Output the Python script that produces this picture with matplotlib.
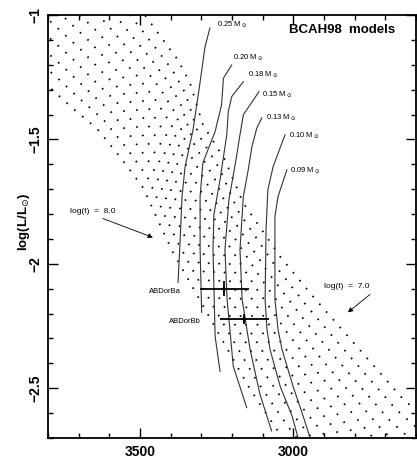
import matplotlib
matplotlib.use("Agg")
from matplotlib import pyplot as plt
from matplotlib.ticker import MultipleLocator, FuncFormatter

plt.rcParams['font.family'] = ['Liberation Sans', 'DejaVu Sans']
plt.rcParams['mathtext.fontset'] = 'dejavusans'

# BCAH98 isochrones, log(t) = 7.0 ... 8.0
iso_ages = [7.0, 7.1, 7.2, 7.3, 7.4, 7.5, 7.6, 7.7, 7.8, 7.9, 8.0]
iso_teff = [
    [3647, 3533, 3477, 3425, 3376, 3337, 3295, 3223, 3164, 3043, 2936, 2848, 2642, 2522],
    [3671, 3560, 3502, 3447, 3395, 3352, 3309, 3240, 3181, 3063, 2957, 2867, 2666, 2545],
    [3696, 3586, 3527, 3468, 3414, 3368, 3323, 3257, 3199, 3084, 2977, 2886, 2690, 2568],
    [3720, 3613, 3551, 3490, 3433, 3383, 3337, 3274, 3216, 3104, 2998, 2905, 2713, 2590],
    [3745, 3640, 3576, 3511, 3452, 3398, 3351, 3291, 3233, 3124, 3018, 2924, 2737, 2613],
    [3769, 3667, 3601, 3533, 3471, 3414, 3365, 3308, 3251, 3145, 3039, 2943, 2761, 2636],
    [3793, 3693, 3626, 3554, 3489, 3429, 3379, 3324, 3268, 3165, 3059, 2961, 2785, 2659],
    [3818, 3720, 3651, 3576, 3508, 3444, 3393, 3341, 3285, 3185, 3080, 2980, 2809, 2682],
    [3842, 3747, 3675, 3597, 3527, 3459, 3407, 3358, 3302, 3205, 3100, 2999, 2832, 2704],
    [3867, 3773, 3700, 3619, 3546, 3475, 3421, 3375, 3320, 3226, 3121, 3018, 2856, 2727],
    [3891, 3800, 3725, 3640, 3565, 3490, 3435, 3392, 3337, 3246, 3141, 3037, 2880, 2750],
]
iso_logl = [
    [-0.779, -0.920, -1.012, -1.100, -1.181, -1.273, -1.441, -1.582, -1.754, -1.971, -2.131, -2.255, -2.544, -2.673],
    [-0.820, -0.957, -1.048, -1.136, -1.220, -1.315, -1.481, -1.619, -1.786, -2.001, -2.168, -2.299, -2.584, -2.716],
    [-0.861, -0.993, -1.083, -1.171, -1.259, -1.357, -1.521, -1.657, -1.818, -2.032, -2.206, -2.343, -2.624, -2.760],
    [-0.902, -1.030, -1.119, -1.207, -1.298, -1.399, -1.561, -1.694, -1.850, -2.062, -2.243, -2.388, -2.664, -2.803],
    [-0.943, -1.066, -1.155, -1.243, -1.337, -1.441, -1.601, -1.731, -1.882, -2.093, -2.280, -2.432, -2.704, -2.846],
    [-0.984, -1.103, -1.191, -1.279, -1.376, -1.484, -1.642, -1.769, -1.915, -2.123, -2.318, -2.476, -2.745, -2.890],
    [-1.025, -1.139, -1.226, -1.314, -1.414, -1.526, -1.682, -1.806, -1.947, -2.153, -2.355, -2.520, -2.785, -2.933],
    [-1.066, -1.176, -1.262, -1.350, -1.453, -1.568, -1.722, -1.843, -1.979, -2.184, -2.392, -2.564, -2.825, -2.976],
    [-1.107, -1.212, -1.298, -1.386, -1.492, -1.610, -1.762, -1.880, -2.011, -2.214, -2.429, -2.609, -2.865, -3.019],
    [-1.148, -1.249, -1.333, -1.421, -1.531, -1.652, -1.802, -1.918, -2.043, -2.245, -2.467, -2.653, -2.905, -3.063],
    [-1.189, -1.285, -1.369, -1.457, -1.570, -1.694, -1.842, -1.955, -2.075, -2.275, -2.504, -2.697, -2.945, -3.106],
]

# evolutionary tracks
track_masses = ['0.25', '0.20', '0.18', '0.15', '0.13', '0.10', '0.09']
track_teff = [
    [3272, 3288, 3304, 3327, 3353, 3363, 3370, 3376],
    [3201, 3228, 3234, 3255, 3295, 3304, 3304, 3299],
    [3163, 3201, 3212, 3217, 3239, 3259, 3262, 3255, 3239],
    [3112, 3141, 3163, 3174, 3187, 3210, 3223, 3216, 3196, 3152],
    [3103, 3119, 3135, 3147, 3163, 3174, 3167, 3141, 3109, 3071],
    [3027, 3066, 3083, 3089, 3092, 3086, 3076, 3043, 3004, 2985, 2978],
    [3021, 3050, 3060, 3060, 3050, 3037, 3001, 2968, 2946, 2936],
]
track_logl = [
    [-1.052, -1.128, -1.269, -1.461, -1.610, -1.730, -1.931, -2.075],
    [-1.201, -1.254, -1.361, -1.468, -1.594, -1.730, -1.943, -2.195],
    [-1.268, -1.328, -1.388, -1.481, -1.662, -1.802, -1.943, -2.292, -2.432],
    [-1.308, -1.361, -1.401, -1.481, -1.582, -1.742, -1.943, -2.143, -2.411, -2.578],
    [-1.414, -1.454, -1.529, -1.622, -1.729, -1.943, -2.143, -2.344, -2.524, -2.671],
    [-1.481, -1.610, -1.702, -1.862, -2.143, -2.263, -2.344, -2.492, -2.612, -2.697, -2.725],
    [-1.622, -1.730, -1.810, -2.143, -2.263, -2.344, -2.492, -2.612, -2.697, -2.737],
]

# AB Dor B components
star_names = ['ABDorBa', 'ABDorBb']
star_teff = [3225, 3160]
star_teff_err = [80, 80]
star_logl = [-2.10, -2.22]
star_logl_err = [0.03, 0.02]

fig = plt.figure(figsize=(4.17, 4.58), dpi=100)
ax = fig.add_axes([48 / 417, 20 / 458, 368 / 417, 423 / 458])

for teff, logl in zip(iso_teff, iso_logl):
    ax.plot(teff, logl, color='black', lw=1.3, linestyle=(0, (0.9, 4.8)))

for teff, logl in zip(track_teff, track_logl):
    ax.plot(teff, logl, color='0.2', lw=0.8)

# mass labels next to the top of each track
label_offsets = [(5, 2), (1, 5), (3, 5), (2, -2), (3, 0), (3, -1), (2, -1)]
for m, teff, logl, off in zip(track_masses, track_teff, track_logl, label_offsets):
    ax.annotate(m + r' M$_\odot$', xy=(teff[0], logl[0]), xytext=off,
                textcoords='offset points', fontsize=5.5, ha='left', va='center')

ax.errorbar(star_teff, star_logl, xerr=star_teff_err, yerr=star_logl_err,
            fmt='+', color='black', ms=5, mew=1.5, elinewidth=1.3, capsize=0)
for name, t, l in zip(star_names, star_teff, star_logl):
    ax.annotate(name, xy=(t, l), xytext=(-31, -2), textcoords='offset points',
                fontsize=5.5, ha='right', va='center')

arrow = dict(arrowstyle='-|>', lw=0.6, color='black', mutation_scale=7,
             shrinkA=0, shrinkB=0)
ax.annotate('', xy=(3458, -1.894), xytext=(3621, -1.818), arrowprops=arrow)
ax.text(3653, -1.790, 'log(t)  =  8.0', fontsize=6, ha='center', va='center')
ax.annotate('', xy=(2822, -2.195), xytext=(2750, -2.123), arrowprops=arrow)
ax.text(2825, -2.091, 'log(t)  =  7.0', fontsize=6, ha='center', va='center')

ax.text(0.8, 0.965, 'BCAH98  models', transform=ax.transAxes, fontsize=9.5,
        fontweight='bold', ha='center', va='center')

ax.set_xlim(3800, 2600)
ax.set_ylim(-2.7, -1)
ax.xaxis.set_major_locator(MultipleLocator(500))
ax.xaxis.set_minor_locator(MultipleLocator(100))
ax.yaxis.set_major_locator(MultipleLocator(0.5))
ax.yaxis.set_minor_locator(MultipleLocator(0.1))
ax.yaxis.set_major_formatter(FuncFormatter(lambda v, p: ('%g' % v).replace('-', '\u2212')))
ax.tick_params(which='both', direction='in', top=True, right=True, width=1.0)
ax.tick_params(which='major', length=7, labelsize=10, pad=5)
ax.tick_params(which='minor', length=3.5)
ax.tick_params(axis='y', which='major', pad=4)
for lab in ax.get_xticklabels() + ax.get_yticklabels():
    lab.set_fontweight('bold')
for lab in ax.get_yticklabels():
    lab.set_rotation(90)
    lab.set_va('center')
for sp in ax.spines.values():
    sp.set_linewidth(1.3)

fig.text(24 / 417, 1 - 222 / 458, r'log(L/L$_{\odot}$)', rotation=90, fontsize=9.5,
         fontweight='bold', ha='center', va='center')

fig.savefig('out.png', dpi=100)
